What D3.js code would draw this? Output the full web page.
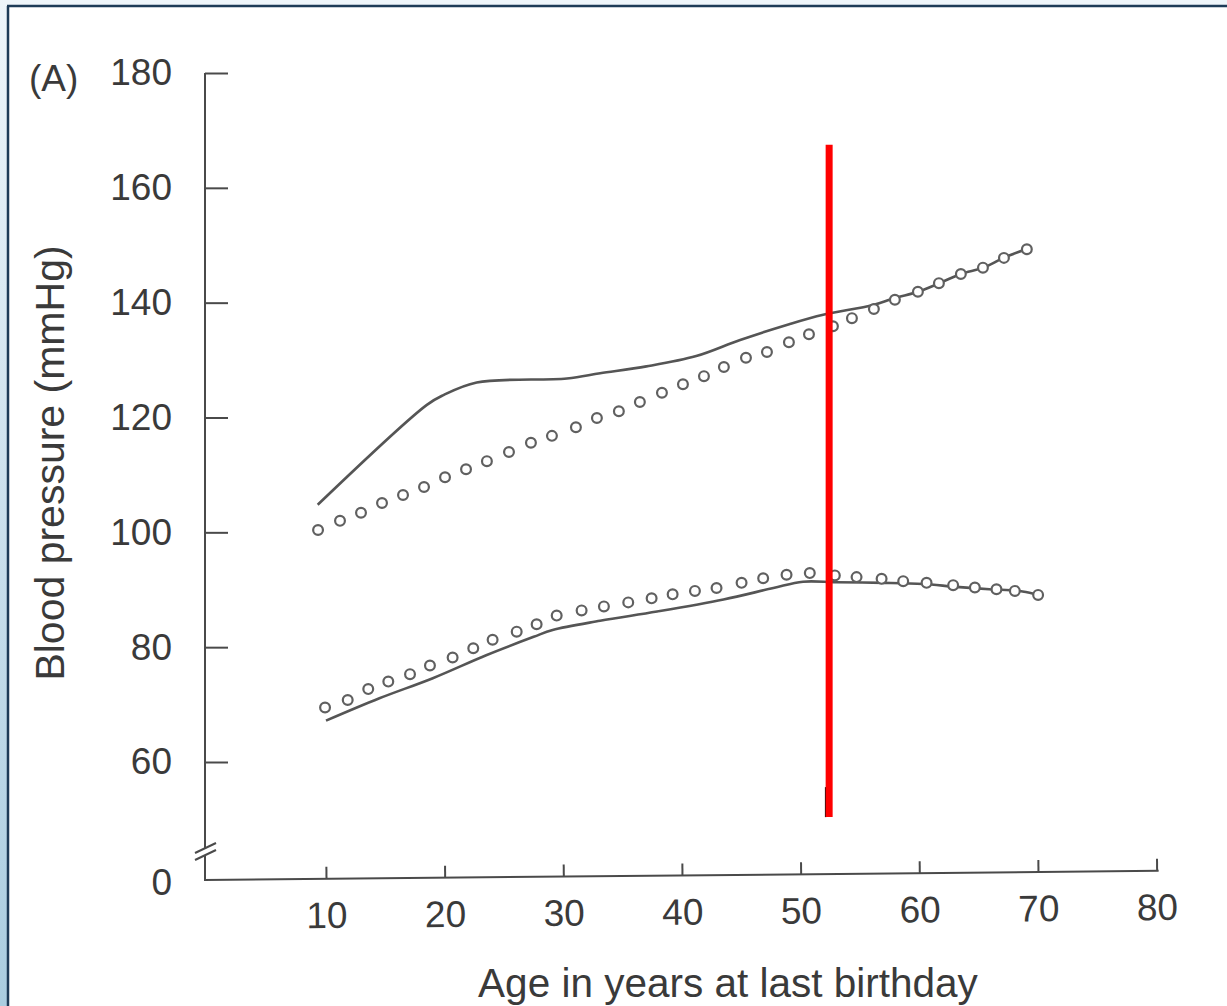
<!DOCTYPE html>
<html>
<head>
<meta charset="utf-8">
<script src="https://cdn.jsdelivr.net/npm/d3@7"></script>
<style>
  html, body { margin: 0; padding: 0; background: #fff; }
  svg { display: block; }
  .tick text, .lbl { font-family: "Liberation Sans", Arial, Helvetica, sans-serif; fill: #3a3a3a; }
</style>
</head>
<body>
<svg id="chart" width="1227" height="1006"></svg>
<script>
'use strict';

// x ticks and y ticks of the original figure
var xTicks = [10, 20, 30, 40, 50, 60, 70, 80];
var yTicks = [60, 80, 100, 120, 140, 160, 180];
var yBreakLabel = '0';

// upper pair (systolic): observed curve and fitted circles
var sysLineAge = [9.3, 18.5, 19.9, 22.7, 30.3, 33.1, 37.0, 41.2, 44.9, 49.1, 51.9, 56.1, 57.9, 59.9, 61.7, 63.5, 65.4, 67.1, 69.0];
var sysLineVal = [104.8, 122.2, 123.9, 126.1, 126.8, 127.7, 128.9, 130.7, 133.5, 136.3, 137.9, 139.6, 140.8, 141.9, 143.4, 145.0, 146.1, 147.8, 149.3];
var sysDotAge = [9.33, 11.18, 12.95, 14.72, 16.49, 18.26, 20.03, 21.80, 23.56, 25.42, 27.27, 29.04, 31.06, 32.83, 34.68, 36.45, 38.31,
  40.08, 41.85, 43.53, 45.39, 47.16, 49.01, 50.70, 52.72, 54.32, 56.17, 57.94, 59.88, 61.65, 63.50, 65.36, 67.13, 69.06];
var sysDotVal = [100.4, 102.0, 103.4, 105.1, 106.5, 107.9, 109.6, 111.0, 112.4, 114.0, 115.6, 116.8, 118.3, 119.9, 121.1, 122.7, 124.3,
  125.8, 127.2, 128.8, 130.4, 131.4, 133.1, 134.5, 135.9, 137.3, 138.9, 140.5, 141.9, 143.4, 145.0, 146.1, 147.8, 149.3];

// lower pair (diastolic)
var diaLineAge = [10.0, 14.5, 19.0, 23.5, 27.5, 29.1, 33.1, 37.9, 43.5, 47.7, 50.2, 53.0, 57.0, 60.3, 63.1, 65.9, 68.7, 70.0];
var diaLineVal = [67.2, 71.1, 74.6, 78.6, 81.8, 83.0, 84.6, 86.2, 88.3, 90.3, 91.4, 91.3, 91.2, 91.0, 90.5, 90.1, 89.7, 89.1];
var diaDotAge = [9.92, 11.83, 13.56, 15.25, 17.08, 18.76, 20.67, 22.41, 24.04, 26.07, 27.75, 29.44, 31.54, 33.42, 35.47, 37.44, 39.21,
  41.09, 42.91, 45.02, 46.84, 48.81, 50.77, 52.88, 54.71, 56.82, 58.64, 60.61, 62.85, 64.68, 66.50, 68.05, 70.01];
var diaDotVal = [69.5, 70.8, 72.7, 74.0, 75.3, 76.8, 78.2, 79.8, 81.3, 82.7, 84.0, 85.5, 86.4, 87.1, 87.8, 88.5, 89.2,
  89.8, 90.3, 91.2, 92.0, 92.6, 92.9, 92.5, 92.2, 91.9, 91.5, 91.2, 90.8, 90.4, 90.1, 89.8, 89.1];

// red marker drawn over the scan
var markerAge = 52.4;
var markerRange = [50.4, 167.5];

var svg = d3.select('#chart');

// page frame: light blue outside, navy edge
var defs = svg.append('defs');
var grad = defs.append('linearGradient').attr('id', 'edge').attr('x1', 0).attr('y1', 0).attr('x2', 0).attr('y2', 1);
grad.append('stop').attr('offset', '0%').attr('stop-color', '#eef5fa');
grad.append('stop').attr('offset', '100%').attr('stop-color', '#aacde0');
svg.append('rect').attr('x', 0).attr('y', 0).attr('width', 1227).attr('height', 5).attr('fill', '#eef5fa');
svg.append('rect').attr('x', 0).attr('y', 0).attr('width', 7).attr('height', 1006).attr('fill', 'url(#edge)');
svg.append('line').attr('x1', 7).attr('x2', 1227).attr('y1', 6).attr('y2', 6).attr('stroke', '#1d3b57').attr('stroke-width', 2.5);
svg.append('line').attr('x1', 8).attr('x2', 8).attr('y1', 6).attr('y2', 1006).attr('stroke', '#1d3b57').attr('stroke-width', 2.5);

var x = d3.scaleLinear().domain([10, 70]).range([326, 1038]);
var y = d3.scaleLinear().domain([60, 180]).range([762, 73]);

var AXIS_X = 205;
var AXIS_Y = 880;
var INK = '#4a4a4a';

// y axis, ticks pointing into the plot
var yAxis = svg.append('g')
  .attr('transform', 'translate(' + AXIS_X + ',0)')
  .call(d3.axisLeft(y).tickValues(yTicks).tickSizeInner(-23).tickSizeOuter(0).tickPadding(33).tickFormat(d3.format('d')));
yAxis.select('.domain').remove();
yAxis.selectAll('.tick line').attr('stroke', INK).attr('stroke-width', 2);
yAxis.selectAll('.tick text').attr('font-size', 37).attr('x', -33);

// broken y axis line
svg.append('line').attr('x1', AXIS_X).attr('x2', AXIS_X).attr('y1', y(180)).attr('y2', 848)
  .attr('stroke', INK).attr('stroke-width', 2);
svg.append('line').attr('x1', AXIS_X).attr('x2', AXIS_X).attr('y1', 855).attr('y2', AXIS_Y)
  .attr('stroke', INK).attr('stroke-width', 2);
[0, 7].forEach(function(off) {
  svg.append('line').attr('x1', 195).attr('y1', 853 + off).attr('x2', 216).attr('y2', 843 + off)
    .attr('stroke', INK).attr('stroke-width', 2);
});
svg.append('text').attr('class', 'lbl').attr('x', 172).attr('y', AXIS_Y + 2).attr('dy', '0.35em')
  .attr('text-anchor', 'end').attr('font-size', 37).text(yBreakLabel);

// x axis (the scan is tilted a little)
var xg = svg.append('g').attr('transform', 'rotate(-0.55,' + AXIS_X + ',' + AXIS_Y + ')');
var xAxis = xg.append('g')
  .attr('transform', 'translate(0,' + AXIS_Y + ')')
  .call(d3.axisBottom(x).tickValues(xTicks).tickSizeInner(-12).tickSizeOuter(0).tickPadding(23).tickFormat(d3.format('d')));
xAxis.select('.domain').remove();
xAxis.selectAll('.tick line').attr('stroke', INK).attr('stroke-width', 2);
xAxis.selectAll('.tick text').attr('font-size', 37);
xg.append('line').attr('x1', AXIS_X - 1).attr('x2', x(80) + 2).attr('y1', AXIS_Y).attr('y2', AXIS_Y)
  .attr('stroke', INK).attr('stroke-width', 2);

// titles
svg.append('text').attr('class', 'lbl').attr('x', 728).attr('y', 983).attr('dy', '0.35em')
  .attr('text-anchor', 'middle').attr('font-size', 40.5).text('Age in years at last birthday');
svg.append('text').attr('class', 'lbl')
  .attr('transform', 'translate(50,463) rotate(-90)').attr('dy', '0.35em')
  .attr('text-anchor', 'middle').attr('font-size', 41).text('Blood pressure (mmHg)');
svg.append('text').attr('class', 'lbl').attr('x', 29).attr('y', 78).attr('dy', '0.35em')
  .attr('font-size', 37).text('(A)');

// curves
var line = d3.line()
  .x(function(d) { return x(d[0]); })
  .y(function(d) { return y(d[1]); })
  .curve(d3.curveCatmullRom.alpha(0.5));

function drawLine(ages, vals) {
  svg.append('path')
    .datum(d3.zip(ages, vals))
    .attr('d', line)
    .attr('fill', 'none')
    .attr('stroke', '#555')
    .attr('stroke-width', 2.6);
}

function drawDots(ages, vals) {
  svg.append('g').selectAll('circle')
    .data(d3.zip(ages, vals))
    .enter()
    .append('circle')
    .attr('cx', function(d) { return x(d[0]); })
    .attr('cy', function(d) { return y(d[1]); })
    .attr('r', 4.9)
    .attr('fill', '#fff')
    .attr('stroke', '#606060')
    .attr('stroke-width', 2.2);
}

drawLine(sysLineAge, sysLineVal);
drawLine(diaLineAge, diaLineVal);
drawDots(sysDotAge, sysDotVal);
drawDots(diaDotAge, diaDotVal);

// red marker
svg.append('line')
  .attr('x1', x(markerAge) - 3.5).attr('x2', x(markerAge) - 3.5)
  .attr('y1', y(markerRange[0]) - 30).attr('y2', y(markerRange[0]))
  .attr('stroke', '#111').attr('stroke-width', 1.5);
svg.append('line')
  .attr('x1', x(markerAge)).attr('x2', x(markerAge))
  .attr('y1', y(markerRange[1])).attr('y2', y(markerRange[0]))
  .attr('stroke', '#ff0000').attr('stroke-width', 7);
</script>
</body>
</html>
